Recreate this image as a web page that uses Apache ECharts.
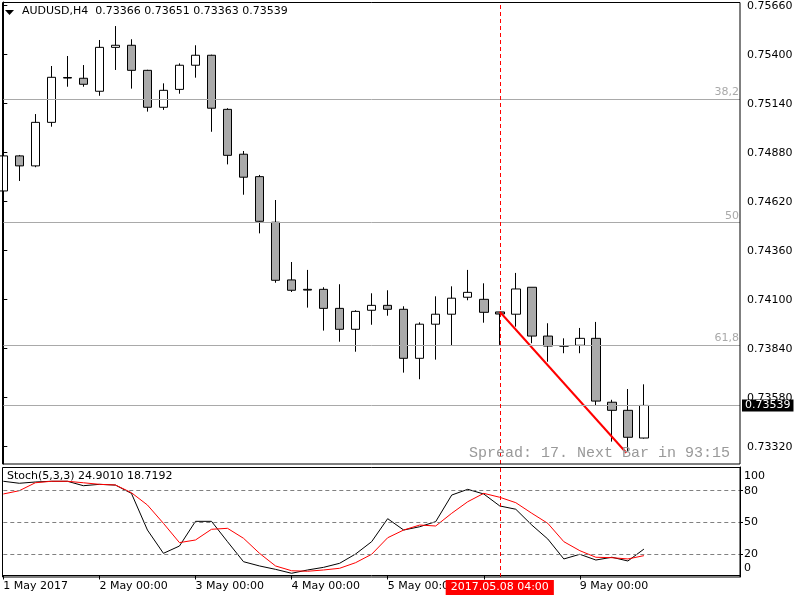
<!DOCTYPE html>
<html><head><meta charset="utf-8">
<script src="https://cdn.jsdelivr.net/npm/echarts@6/dist/echarts.min.js"></script>
<style>html,body{margin:0;padding:0;background:#fff}#c{width:800px;height:600px}</style>
</head><body><div id="c"></div>
<script>
const times = [
 '2017.05.01 00:00','2017.05.01 04:00','2017.05.01 08:00','2017.05.01 12:00','2017.05.01 16:00','2017.05.01 20:00',
 '2017.05.02 00:00','2017.05.02 04:00','2017.05.02 08:00','2017.05.02 12:00','2017.05.02 16:00','2017.05.02 20:00',
 '2017.05.03 00:00','2017.05.03 04:00','2017.05.03 08:00','2017.05.03 12:00','2017.05.03 16:00','2017.05.03 20:00',
 '2017.05.04 00:00','2017.05.04 04:00','2017.05.04 08:00','2017.05.04 12:00','2017.05.04 16:00','2017.05.04 20:00',
 '2017.05.05 00:00','2017.05.05 04:00','2017.05.05 08:00','2017.05.05 12:00','2017.05.05 16:00','2017.05.05 20:00',
 '2017.05.08 00:00','2017.05.08 04:00','2017.05.08 08:00','2017.05.08 12:00','2017.05.08 16:00','2017.05.08 20:00',
 '2017.05.09 00:00','2017.05.09 04:00','2017.05.09 08:00','2017.05.09 12:00','2017.05.09 16:00'];
const emptySlots = ['2017.05.09 20:00','2017.05.10 00:00','2017.05.10 04:00','2017.05.10 08:00','2017.05.10 12:00','2017.05.10 16:00'];

const open  = [0.74677,0.74863,0.74810,0.75041,0.75276,0.75275,0.75206,0.75439,0.75450,0.75317,
               0.75121,0.75216,0.75344,0.75397,0.75110,0.74872,0.74753,0.74511,0.74205,0.74155,
               0.74155,0.74054,0.73943,0.74044,0.74070,0.74049,0.73789,0.73970,0.74023,0.74113,
               0.74102,0.74035,0.74023,0.74166,0.73907,0.73854,0.73858,0.73895,0.73556,0.73513,0.73366];
const close = [0.74863,0.74810,0.75041,0.75280,0.75279,0.75243,0.75439,0.75450,0.75317,0.75121,
               0.75211,0.75344,0.75397,0.75116,0.74866,0.74750,0.74516,0.74203,0.74150,0.74151,
               0.74054,0.73943,0.74038,0.74070,0.74049,0.73789,0.73970,0.74023,0.74108,0.74139,
               0.74033,0.74024,0.74157,0.73907,0.73854,0.73854,0.73895,0.73562,0.73513,0.73370,0.73539];
const low   = [0.74672,0.74730,0.74803,0.75018,0.75230,0.75230,0.75182,0.75319,0.75220,0.75098,
               0.75107,0.75193,0.75278,0.74991,0.74818,0.74657,0.74452,0.74190,0.74141,0.74058,
               0.73936,0.73877,0.73824,0.73967,0.74015,0.73713,0.73678,0.73782,0.73858,0.74097,
               0.73978,0.73860,0.73957,0.73869,0.73771,0.73816,0.73816,0.73540,0.73347,0.73293,0.73363];
const high  = [0.74905,0.74868,0.75085,0.75340,0.75393,0.75345,0.75478,0.75552,0.75482,0.75320,
               0.75248,0.75354,0.75450,0.75400,0.75116,0.74889,0.74762,0.74629,0.74300,0.74258,
               0.74166,0.74182,0.74044,0.74134,0.74150,0.74065,0.73980,0.74118,0.74171,0.74258,
               0.74187,0.74035,0.74242,0.74166,0.73975,0.73895,0.73950,0.73982,0.73569,0.73626,0.73651];

const stochK = [88.9,87.0,88.2,88.9,88.9,84.7,86.0,85.3,77.5,42.9,20.9,27.8,51.1,51.1,31.9,13.0,9.0,5.8,2.1,5.2,
                7.7,11.5,20.3,31.9,53.6,42.9,46.0,50.8,75.9,81.3,76.9,65.6,62.5,47.6,34.4,15.6,20.0,14.6,17.2,13.7,24.901];
const stochD = [76.9,80.0,87.5,88.9,88.9,87.5,86.0,85.4,78.1,66.5,49.2,31.0,33.5,43.6,44.5,35.1,20.9,9.0,4.5,4.0,
                5.2,6.8,12.1,20.0,35.6,42.9,47.6,46.7,58.7,69.6,77.5,73.8,68.7,58.7,49.2,31.9,23.4,17.2,16.8,15.6,18.7192];

const priceTicks = [0.73320,0.73580,0.73840,0.74100,0.74360,0.74620,0.74880,0.75140,0.75400,0.75660];
const stochTicks = [20,50,80];
const stochLabelVals = [0,20,50,80,100];
const timeTickIdx = [0,6,12,18,24,30,36];
const timeTickLabels = ['1 May 2017','2 May 00:00','3 May 00:00','4 May 00:00','5 May 00:00','8 May 00:00','9 May 00:00'];

const fibLevels = [0.75165,0.74511,0.73860];
const fibLabels = ['38,2','50','61,8'];
const bidPrice = 0.73539;
const trendX = [31,38.9];
const trendY = [0.74036,0.73288];
const crossIdx = 31;
const crossLabel = '2017.05.08 04:00';
const headerText = 'AUDUSD,H4  0.73366 0.73651 0.73363 0.73539';
const stochText = 'Stoch(5,3,3) 24.9010 18.7192';
const spreadText = 'Spread: 17. Next Bar in 93:15';

const FONT = 'DejaVu Sans';
const cats = times.concat(emptySlots);
const candles = open.map((o,i)=>[o, close[i], low[i], high[i]]);
const GL = 3.3, GW = 736.7;

const chart = echarts.init(document.getElementById('c'), null, {renderer:'canvas', width:800, height:600});

// stoch label value positions (0 and 100 labels are kept inside the pane like MT4)
const stochLabelPos = [6.8,20,50,80,93.9];

const option = {
  animation:false,
  backgroundColor:'#ffffff',
  grid:[
    {left:GL, top:2, width:GW, height:462},
    {left:GL, top:467, width:GW, height:110}
  ],
  xAxis:[
    {type:'category', gridIndex:0, data:cats, boundaryGap:false, show:false},
    {type:'category', gridIndex:1, data:cats, boundaryGap:false,
     axisLine:{show:true, lineStyle:{color:'#000'}},
     axisTick:{show:true, length:4, lineStyle:{color:'#000'}, interval:(i)=>timeTickIdx.includes(i)},
     axisLabel:{show:true, interval:(i)=>timeTickIdx.includes(i), align:'left', margin:4,
       color:'#000', fontFamily:FONT, fontSize:11,
       formatter:(v,i)=>{const k=timeTickIdx.indexOf(i); return k>=0?timeTickLabels[k]:'';}},
     splitLine:{show:false}},
    {type:'value', gridIndex:0, min:0, max:cats.length-1, show:false}
  ],
  yAxis:[
    {type:'value', gridIndex:0, position:'right', min:0.732282, max:0.756796,
     axisLine:{show:true, lineStyle:{color:'#000'}},
     axisTick:{show:true, length:4, lineStyle:{color:'#000'}, customValues:priceTicks},
     axisLabel:{show:true, customValues:priceTicks, formatter:(v)=>v.toFixed(5), margin:7,
       color:'#000', fontFamily:FONT, fontSize:11},
     splitLine:{show:false}},
    {type:'value', gridIndex:1, position:'right', min:-1.42, max:102.36,
     axisLine:{show:true, lineStyle:{color:'#000'}},
     axisTick:{show:true, length:3, lineStyle:{color:'#000'}, customValues:stochTicks},
     axisLabel:{show:true, customValues:stochLabelPos, margin:4, color:'#000', fontFamily:FONT, fontSize:11,
       formatter:(v)=>{const k=stochLabelPos.indexOf(v); return k>=0?String(stochLabelVals[k]):'';}},
     splitLine:{show:false}}
  ],
  series:[
    {type:'candlestick', xAxisIndex:0, yAxisIndex:0, data:candles, barWidth:9,
     itemStyle:{color:'#ffffff', color0:'#aaaaaa', borderColor:'#000', borderColor0:'#000', borderColorDoji:'#000', borderWidth:1},
     emphasis:{disabled:true},
     markLine:{symbol:'none', silent:true, animation:false, precision:5,
       data:[
         ...fibLevels.map((v,k)=>({yAxis:v, lineStyle:{color:'#a9a9a9', type:'solid', width:1},
            label:{show:true, position:'insideEndTop', formatter:fibLabels[k], color:'#a9a9a9', fontFamily:FONT, fontSize:11, distance:[1,1]}})),
         {yAxis:bidPrice, lineStyle:{color:'#a9a9a9', type:'solid', width:1},
            label:{show:true, position:'end', formatter:bidPrice.toFixed(5), color:'#fff', backgroundColor:'#000',
              padding:[1,3,0,3], fontFamily:FONT, fontSize:11, distance:2}},
         {xAxis:crossIdx, lineStyle:{color:'#ff0000', type:[4,3], width:1}, label:{show:false}}
       ]}
    },
    {type:'line', xAxisIndex:2, yAxisIndex:0, data:trendX.map((x,i)=>[x,trendY[i]]), symbol:'none',
     lineStyle:{color:'#ff0000', width:2}, silent:true},
    {type:'line', xAxisIndex:1, yAxisIndex:1, data:stochK, symbol:'none', lineStyle:{color:'#000', width:1}, silent:true,
     markLine:{symbol:'none', silent:true, animation:false,
       data:[
         ...stochTicks.map(v=>({yAxis:v, lineStyle:{color:'#808080', type:[4,3], width:1}, label:{show:false}})),
         {xAxis:crossIdx, lineStyle:{color:'#ff0000', type:[4,3], width:1}, label:{show:false}}
       ]}},
    {type:'line', xAxisIndex:1, yAxisIndex:1, data:stochD, symbol:'none', lineStyle:{color:'#ff0000', width:1}, silent:true}
  ],
  graphic:[
    {type:'rect', shape:{x:2.5, y:2.5, width:737.5, height:461.5}, style:{fill:null, stroke:'#000', lineWidth:1}, silent:true, z:50},
    {type:'rect', shape:{x:2.5, y:467.5, width:737.5, height:109.5}, style:{fill:null, stroke:'#000', lineWidth:1}, silent:true, z:50},
    {type:'polygon', shape:{points:[[5,10],[14,10],[9.5,15]]}, style:{fill:'#000'}, silent:true, z:60},
    {type:'text', left:22, top:6, style:{text:headerText, fill:'#000', font:'11px "DejaVu Sans"'}, silent:true, z:60},
    {type:'text', left:7, top:471, style:{text:stochText, fill:'#000', font:'11px "DejaVu Sans"'}, silent:true, z:60},
    {type:'text', left:469, top:446, style:{text:spreadText, fill:'#999999', font:'15px "Liberation Mono"'}, silent:true, z:60}
  ]
};
chart.setOption(option);

const cx = chart.convertToPixel({xAxisIndex:1}, crossIdx);
chart.setOption({graphic:[
  {type:'rect', shape:{x:2.5, y:2.5, width:737.5, height:461.5}, style:{fill:null, stroke:'#000', lineWidth:1}, silent:true, z:50},
  {type:'rect', shape:{x:2.5, y:467.5, width:737.5, height:109.5}, style:{fill:null, stroke:'#000', lineWidth:1}, silent:true, z:50},
  {type:'polygon', shape:{points:[[5,10],[14,10],[9.5,15]]}, style:{fill:'#000'}, silent:true, z:60},
  {type:'text', left:22, top:6, style:{text:headerText, fill:'#000', font:'11px "DejaVu Sans"'}, silent:true, z:60},
  {type:'text', left:7, top:471, style:{text:stochText, fill:'#000', font:'11px "DejaVu Sans"'}, silent:true, z:60},
  {type:'text', left:469, top:446, style:{text:spreadText, fill:'#999999', font:'15px "Liberation Mono"'}, silent:true, z:60},
  {type:'text', x:cx, y:580, style:{text:crossLabel, fill:'#fff', backgroundColor:'#ff0000', padding:[2,5,2,5],
     font:'11px "DejaVu Sans"', align:'center', verticalAlign:'top'}, silent:true, z:70}
]}, {replaceMerge:['graphic']});
</script>
</body></html>
